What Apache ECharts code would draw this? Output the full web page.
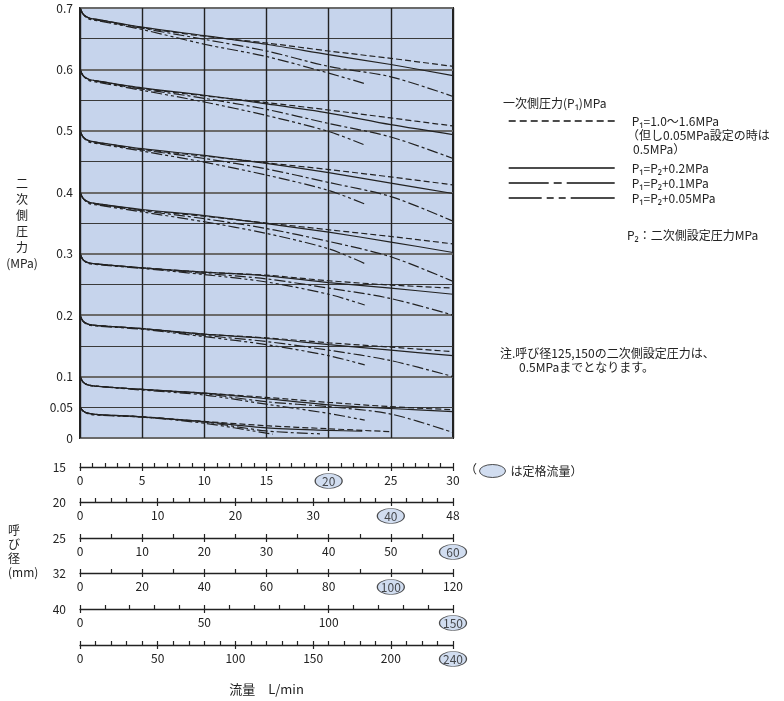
<!DOCTYPE html>
<html>
<head>
<meta charset="utf-8">
<script src="https://cdn.jsdelivr.net/npm/echarts@6/dist/echarts.min.js"></script>
<style>
  html, body { margin: 0; padding: 0; background: #fff; }
  #chart { width: 784px; height: 701px; }
</style>
</head>
<body>
<div id="chart"></div>
<script>
// 二次側設定圧力
var setPressures = [0.7, 0.6, 0.5, 0.4, 0.3, 0.2, 0.1, 0.05];

// 流量 (呼び径15基準, L/min)
var flowsFull = [0, 0.25, 0.7, 1.5, 5, 10, 15, 20, 25, 30];
var flowsShort = [0, 0.25, 0.7, 1.5, 5, 10, 15, 20, 22.9];
var flows005A = [0, 0.25, 0.7, 1.5, 5, 10, 15, 20, 25];
var flows005B = [0, 0.25, 0.7, 1.5, 5, 10, 15, 20, 22.7];
var flows005C = [0, 0.25, 0.7, 1.5, 5, 10, 15, 19.3];
var flows005D = [0, 0.25, 0.7, 1.5, 5, 10, 15.5];

// P1=1.0~1.6MPa (破線)
var dashedP = [
    [0.700, 0.690, 0.684, 0.681, 0.668, 0.654, 0.643, 0.630, 0.618, 0.605],
    [0.600, 0.590, 0.584, 0.581, 0.569, 0.557, 0.546, 0.534, 0.521, 0.508],
    [0.500, 0.490, 0.484, 0.481, 0.470, 0.459, 0.448, 0.437, 0.425, 0.412],
    [0.400, 0.390, 0.384, 0.381, 0.371, 0.361, 0.350, 0.339, 0.328, 0.316],
    [0.300, 0.290, 0.285, 0.283, 0.277, 0.270, 0.265, 0.256, 0.249, 0.244],
    [0.200, 0.190, 0.185, 0.183, 0.178, 0.169, 0.163, 0.155, 0.148, 0.1405],
    [0.100, 0.091, 0.086, 0.084, 0.079, 0.073, 0.066, 0.058, 0.051, 0.046],
    [0.050, 0.044, 0.040, 0.038, 0.0346, 0.027, 0.020, 0.015, 0.0103]
];
// P1=P2+0.2MPa (実線)
var solidP = [
    [0.700, 0.690, 0.684, 0.681, 0.669, 0.655, 0.641, 0.624, 0.608, 0.590],
    [0.600, 0.590, 0.584, 0.581, 0.570, 0.558, 0.544, 0.529, 0.510, 0.494],
    [0.500, 0.490, 0.484, 0.481, 0.471, 0.460, 0.447, 0.432, 0.415, 0.398],
    [0.400, 0.390, 0.384, 0.381, 0.372, 0.362, 0.349, 0.335, 0.319, 0.302],
    [0.300, 0.290, 0.285, 0.283, 0.277, 0.270, 0.264, 0.253, 0.244, 0.234],
    [0.200, 0.190, 0.185, 0.183, 0.178, 0.169, 0.162, 0.152, 0.143, 0.134],
    [0.100, 0.091, 0.086, 0.084, 0.079, 0.073, 0.064, 0.054, 0.048, 0.043],
    [0.050, 0.044, 0.040, 0.038, 0.0345, 0.0265, 0.0165, 0.0125, 0.0110]
];
// P1=P2+0.1MPa (一点鎖線)
var dashDotP = [
    [0.700, 0.690, 0.683, 0.680, 0.667, 0.649, 0.630, 0.605, 0.588, 0.556],
    [0.600, 0.590, 0.583, 0.580, 0.568, 0.553, 0.535, 0.512, 0.490, 0.455],
    [0.500, 0.490, 0.483, 0.480, 0.469, 0.455, 0.438, 0.416, 0.393, 0.353],
    [0.400, 0.390, 0.383, 0.380, 0.370, 0.357, 0.341, 0.320, 0.295, 0.255],
    [0.300, 0.290, 0.285, 0.283, 0.277, 0.268, 0.259, 0.244, 0.227, 0.200],
    [0.200, 0.190, 0.185, 0.183, 0.178, 0.167, 0.157, 0.143, 0.126, 0.100],
    [0.100, 0.091, 0.086, 0.084, 0.079, 0.072, 0.059, 0.051, 0.039, 0.009],
    [0.050, 0.044, 0.040, 0.038, 0.034, 0.026, 0.0115, 0.0068]
];
// P1=P2+0.05MPa (二点鎖線)
var dashDot2P = [
    [0.700, 0.690, 0.682, 0.679, 0.665, 0.641, 0.621, 0.594, 0.577],
    [0.600, 0.590, 0.582, 0.579, 0.566, 0.547, 0.525, 0.499, 0.477],
    [0.500, 0.490, 0.482, 0.479, 0.467, 0.449, 0.428, 0.403, 0.381],
    [0.400, 0.390, 0.382, 0.379, 0.368, 0.352, 0.333, 0.308, 0.284],
    [0.300, 0.290, 0.284, 0.282, 0.276, 0.266, 0.254, 0.234, 0.2165],
    [0.200, 0.190, 0.184, 0.182, 0.177, 0.165, 0.152, 0.134, 0.119],
    [0.100, 0.091, 0.086, 0.084, 0.078, 0.070, 0.055, 0.040, 0.029],
    [0.050, 0.044, 0.039, 0.037, 0.034, 0.024, 0.0062]
];

// 呼び径別の流量目盛
var diameters = ['15', '20', '25', '32', '40', '50'];
var flowMax = [30, 48, 60, 120, 150, 240];
var tickLabels = [
    [0, 5, 10, 15, 20, 25, 30],
    [0, 10, 20, 30, 40, 48],
    [0, 10, 20, 30, 40, 50, 60],
    [0, 20, 40, 60, 80, 100, 120],
    [0, 50, 100, 150],
    [0, 50, 100, 150, 200, 240]
];
var minorStep = [1, 2, 5, 10, 10, 10];
var ratedFlow = [20, 40, 60, 100, 150, 240];

var yTickLabels = [0, 0.05, 0.1, 0.2, 0.3, 0.4, 0.5, 0.6, 0.7];

var FONT = '"Noto Sans CJK JP", "Noto Sans", sans-serif';
var INK = '#222';
var BG = '#c6d4ec';
var PLOT_LEFT = 80, PLOT_W = 373;
var rowLineY = [467, 502, 538, 573, 609, 645];

var styles = [
    {name: 'P₁=1.0～1.6MPa', values: dashedP, type: [6, 3], legendType: [7, 4], legendTop: 110},
    {name: 'P₁=P₂+0.2MPa', values: solidP, type: 'solid', legendType: 'solid', legendTop: 157},
    {name: 'P₁=P₂+0.1MPa', values: dashDotP, type: [11, 3, 3, 3], legendType: [40, 5, 8, 5, 60], legendTop: 172},
    {name: 'P₁=P₂+0.05MPa', values: dashDot2P, type: [11, 3, 3, 3, 3, 3], legendType: [33, 5, 7, 5, 7, 5, 50], legendTop: 187}
];

function flowsFor(styleIdx, setIdx) {
    if (setIdx === 7) return [flows005A, flows005B, flows005C, flows005D][styleIdx];
    return styleIdx === 3 ? flowsShort : flowsFull;
}

var series = [];
styles.forEach(function (st, si) {
    st.values.forEach(function (row, k) {
        var fl = flowsFor(si, k);
        series.push({
            name: st.name,
            type: 'line',
            xAxisIndex: 0,
            yAxisIndex: 0,
            symbol: 'none',
            smooth: 0.3,
            silent: true,
            z: 4,
            color: INK,
            lineStyle: {color: INK, width: 1.2, type: st.type},
            data: row.map(function (p, i) { return [fl[i], p]; })
        });
    });
});

var grids = [{
    left: PLOT_LEFT, top: 8, width: PLOT_W, height: 430,
    show: true, backgroundColor: BG, borderColor: INK, borderWidth: 2
}];
var xAxes = [{
    gridIndex: 0, type: 'value', min: 0, max: 30, interval: 5,
    axisLine: {show: false}, axisTick: {show: false}, axisLabel: {show: false},
    splitLine: {show: true, lineStyle: {color: INK, width: 1.4}}
}];
var yAxes = [{
    gridIndex: 0, type: 'value', min: 0, max: 0.7, interval: 0.05,
    name: '二\n次\n側\n圧\n力\n(MPa)',
    nameLocation: 'middle', nameRotate: 0, nameGap: 58,
    nameTextStyle: {fontFamily: FONT, fontSize: 12, color: INK, lineHeight: 16, align: 'center'},
    axisLine: {show: false}, axisTick: {show: false},
    axisLabel: {
        fontFamily: FONT, fontSize: 12, color: INK, margin: 7,
        customValues: yTickLabels,
        formatter: function (v) { return String(Math.round(v * 100) / 100); }
    },
    splitLine: {show: true, lineStyle: {color: '#3a3a3a', width: 1}}
}];

diameters.forEach(function (d, i) {
    var g = i + 1;
    grids.push({left: PLOT_LEFT, width: PLOT_W, top: rowLineY[i] - 10, height: 10});
    var minor = [];
    for (var v = 0; v <= flowMax[i]; v += minorStep[i]) minor.push(v);
    var rated = ratedFlow[i];
    // 目盛線と数値 (主目盛は下側)
    xAxes.push({
        gridIndex: g, type: 'value', min: 0, max: flowMax[i], position: 'bottom',
        name: d, nameLocation: 'start', nameGap: 14,
        nameTextStyle: {fontFamily: FONT, fontSize: 12, color: INK, verticalAlign: 'middle', align: 'right'},
        axisLine: {show: true, onZero: false, lineStyle: {color: INK, width: 1.3}},
        axisTick: {show: true, inside: false, length: 4, customValues: tickLabels[i], lineStyle: {color: INK, width: 1.2}},
        axisLabel: {
            fontFamily: FONT, fontSize: 12, color: INK, margin: 7,
            customValues: tickLabels[i],
            formatter: function (v) { return v === rated ? '' : String(v); }
        },
        splitLine: {show: false}
    });
    // 細目盛 (上側)
    xAxes.push({
        gridIndex: g, type: 'value', min: 0, max: flowMax[i], position: 'bottom',
        axisLine: {show: false, onZero: false},
        axisTick: {show: true, inside: true, length: 4, customValues: minor, lineStyle: {color: INK, width: 1.2}},
        axisLabel: {show: false},
        splitLine: {show: false}
    });
    yAxes.push({gridIndex: g, type: 'value', min: 0, max: 1, show: false});
    series.push({
        name: '定格流量',
        type: 'scatter',
        xAxisIndex: 1 + i * 2,
        yAxisIndex: g,
        symbol: 'circle',
        symbolSize: [27, 15],
        symbolOffset: [0, 14],
        silent: true,
        z: 5,
        itemStyle: {color: BG, borderColor: INK, borderWidth: 1},
        label: {
            show: true, position: 'inside', fontFamily: FONT, fontSize: 12, color: INK,
            formatter: function (p) { return String(p.value[0]); }
        },
        data: [[rated, 0]]
    });
});

// 0.1MPa毎の太めの横線
yAxes.push({
    gridIndex: 0, type: 'value', min: 0, max: 0.7, interval: 0.1, position: 'left',
    axisLine: {show: false}, axisTick: {show: false}, axisLabel: {show: false},
    splitLine: {show: true, lineStyle: {color: '#6a6a6a', width: 2}}
});

// 最下段に流量の軸名
var last = xAxes[xAxes.length - 2];
last.name = '流量　L/min';
last.nameLocation = 'middle';
last.nameGap = 38;
last.nameTextStyle = {fontFamily: FONT, fontSize: 13, color: INK};

var legendText = {fontFamily: FONT, fontSize: 12, color: INK, padding: [0, 0, 0, 12]};
var ELLIPSE = 'path://M0,6A12,6,0,1,0,24,6A12,6,0,1,0,0,6Z';

var legends = styles.map(function (st) {
    return {
        data: [st.name], left: 503, top: st.legendTop,
        itemWidth: 106, itemHeight: 10, textStyle: legendText, selectedMode: false,
        itemStyle: {opacity: 0},
        lineStyle: {type: st.legendType, width: 1.4, color: '#111', opacity: 1}
    };
});
legends.push({
    data: [{name: '定格流量', icon: ELLIPSE}], left: 474, top: 459, itemWidth: 26, itemHeight: 13,
    formatter: function () { return 'は定格流量）'; },
    textStyle: {fontFamily: FONT, fontSize: 12, color: INK},
    itemStyle: {color: BG, borderColor: INK, borderWidth: 1},
    selectedMode: false
});

var option = {
    animation: false,
    backgroundColor: '#fff',
    grid: grids,
    xAxis: xAxes,
    yAxis: yAxes,
    legend: legends,
    graphic: [
        {type: 'text', left: 503, top: 97, style: {text: '一次側圧力(P₁)MPa', font: '12px ' + FONT, fill: INK}},
        {type: 'text', left: 627, top: 129, style: {text: '（但し0.05MPa設定の時は', font: '12px ' + FONT, fill: INK}},
        {type: 'text', left: 633, top: 143, style: {text: '0.5MPa）', font: '12px ' + FONT, fill: INK}},
        {type: 'text', left: 627, top: 229, style: {text: 'P₂：二次側設定圧力MPa', font: '12px ' + FONT, fill: INK}},
        {type: 'text', left: 500, top: 347, style: {text: '注.呼び径125,150の二次側設定圧力は、', font: '12px ' + FONT, fill: INK}},
        {type: 'text', left: 519, top: 361, style: {text: '0.5MPaまでとなります。', font: '12px ' + FONT, fill: INK}},
        {type: 'text', left: 465, top: 463, style: {text: '（', font: '12px ' + FONT, fill: INK}},
        {type: 'text', left: 8, top: 523, style: {text: '呼\nび\n径\n(mm)', font: '12px ' + FONT, fill: INK, align: 'center', lineHeight: 14, x: 14}}
    ],
    series: series
};

var chart = echarts.init(document.getElementById('chart'), null, {renderer: 'canvas'});
chart.setOption(option);
</script>
</body>
</html>
